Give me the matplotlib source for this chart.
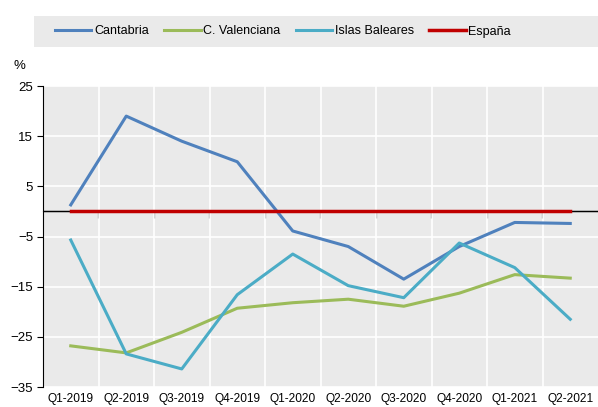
import numpy as np
import matplotlib.pyplot as plt
from matplotlib.patches import Rectangle

plt.rcParams['font.family'] = ['Liberation Sans', 'DejaVu Sans']
plt.rcParams['font.size'] = 9

# Data
quarters = ["Q1-2019", "Q2-2019", "Q3-2019", "Q4-2019", "Q1-2020",
            "Q2-2020", "Q3-2020", "Q4-2020", "Q1-2021", "Q2-2021"]
cantabria = [1.3, 19.0, 14.0, 9.9, -3.9, -7.0, -13.5, -7.0, -2.2, -2.4]
valenciana = [-26.8, -28.2, -24.1, -19.3, -18.2, -17.5, -18.9, -16.3, -12.6, -13.3]
baleares = [-5.7, -28.4, -31.4, -16.6, -8.5, -14.8, -17.2, -6.3, -11.2, -21.5]
espana = [0, 0, 0, 0, 0, 0, 0, 0, 0, 0]

fig = plt.figure(figsize=(5.98, 4.07), dpi=100)
ax = fig.add_axes([43/598, 1-387/407, 1-43/598, (387-86)/407])
ax.set_facecolor('#EAEAEA')

x = np.arange(len(quarters))
ax.plot(x, cantabria, color='#4F81BD', lw=2.2, label='Cantabria')
ax.plot(x, valenciana, color='#9BBB59', lw=2.2, label='C. Valenciana')
ax.plot(x, baleares, color='#4BACC6', lw=2.2, label='Islas Baleares')
ax.axhline(0, color='black', lw=1, zorder=1)
ax.plot(x, espana, color='#C00000', lw=2.5, label='España', zorder=3)

ax.set_xlim(-0.5, len(quarters) - 0.5)
ax.set_ylim(-35, 25)
ax.set_yticks(np.arange(-35, 26, 10))
ax.set_xticks(x)
ax.set_xticklabels(quarters, fontsize=8.6)
ax.set_xticks(np.arange(0.5, len(quarters) - 0.5, 1), minor=True)

ax.grid(True, axis='y', which='major', color='white', lw=1.2)
ax.grid(True, axis='x', which='minor', color='white', lw=1.2)
ax.set_axisbelow(True)

for s in ['top', 'right', 'bottom']:
    ax.spines[s].set_visible(False)
ax.spines['left'].set_color('black')
ax.tick_params(axis='y', length=4, color='black', pad=3, labelsize=9.5)
ax.tick_params(axis='x', which='both', length=0, pad=4)

# tick marks on the zero line
zero_pos = (0 - (-35)) / 60
sec = ax.secondary_xaxis(zero_pos)
sec.set_xticks(np.arange(0.5, len(quarters) - 0.5, 1))
sec.tick_params(direction='in', length=5, labelbottom=False, color='black')
sec.set_xticklabels([])
sec.spines['bottom'].set_visible(False)

fig.text(14/598, 1-66/407, '%', ha='left', va='center', fontsize=9.5)

# legend
fig.patches.append(Rectangle((34/598, 1-47/407), 1-34/598, 31/407,
                             transform=fig.transFigure, facecolor='#EAEAEA',
                             edgecolor='none', zorder=0))
fig.legend(loc='center', bbox_to_anchor=(283/598, 1-31.5/407), ncol=4,
           frameon=False, handlelength=2.9, columnspacing=1.25, handletextpad=0.2,
           fontsize=9)

plt.savefig("out.png", dpi=100)
